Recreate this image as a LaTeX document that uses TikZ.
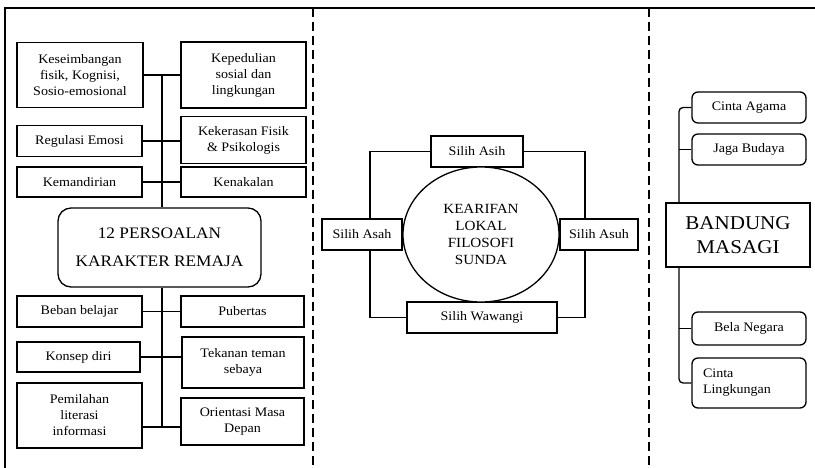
\documentclass[tikz,border=0pt]{standalone}
\usepackage{fontspec}
\setmainfont{Liberation Serif}[FakeStretch=1.08]
\usetikzlibrary{shapes.geometric}
\begin{document}
\begin{tikzpicture}[x=1pt,y=-1pt,
  box/.style={draw, line width=1.3pt, fill=white, inner sep=1pt, align=center,
    font=\fontsize{13}{16}\selectfont},
  rbox/.style={box, rounded corners=6pt},
  conn/.style={line width=1.3pt},
  divider/.style={line width=1.5pt, dash pattern=on 9pt off 5pt}]
\useasboundingbox (0,0) rectangle (815,468);
% frame
\draw[line width=1.6pt] (5,468) -- (5,8) -- (815,8);
\draw[divider] (313,8) -- (313,468);
\draw[divider] (649,8) -- (649,468);

% ---------- left panel ----------
\node[box, minimum width=126, minimum height=65] (kes) at (80,75) {Keseimbangan\\fisik, Kognisi,\\Sosio-emosional};
\node[box, minimum width=125, minimum height=66] (kep) at (243.5,75) {Kepedulian\\sosial dan\\lingkungan};
\node[box, minimum width=125, minimum height=31] (reg) at (79.5,141) {Regulasi Emosi};
\node[box, minimum width=125, minimum height=47] (kek) at (243.5,140) {Kekerasan Fisik\\\& Psikologis};
\node[box, minimum width=125, minimum height=30] (kem) at (79.5,182) {Kemandirian};
\node[box, minimum width=125, minimum height=30] (ken) at (243.5,182) {Kenakalan};
\node[box, rounded corners=13pt, minimum width=203, minimum height=79,
  font=\fontsize{16}{28}\selectfont] (per) at (159.5,247.5) {12 PERSOALAN\\KARAKTER REMAJA};
\node[box, minimum width=125, minimum height=31] (beb) at (79.5,311.5) {Beban belajar};
\node[box, minimum width=123, minimum height=31] (pub) at (242.5,311.5) {Pubertas};
\node[box, minimum width=123, minimum height=30] (kon) at (78.5,357) {Konsep diri};
\node[box, minimum width=122, minimum height=51] (tek) at (243,362.5) {Tekanan teman\\sebaya};
\node[box, minimum width=125, minimum height=65] (pem) at (79.5,415.5) {Pemilahan\\literasi\\informasi};
\node[box, minimum width=123, minimum height=47] (ori) at (242.5,421.5) {Orientasi Masa\\Depan};

\coordinate (t1) at (162,75);
\coordinate (t2) at (162,141);
\coordinate (t3) at (162,182);
\coordinate (t4) at (162,311.5);
\coordinate (t5) at (162,357);
\coordinate (t6) at (162,427);
\draw[conn] (t1) -- (t1 |- per.north);
\draw[conn] (t6 |- per.south) -- (t6);
\draw[conn] (kes.east |- t1) -- (kep.west |- t1);
\draw[conn] (reg.east |- t2) -- (kek.west |- t2);
\draw[conn] (kem.east |- t3) -- (ken.west |- t3);
\draw[conn] (beb.east |- t4) -- (pub.west |- t4);
\draw[conn] (kon.east |- t5) -- (tek.west |- t5);
\draw[conn] (pem.east |- t6) -- (ori.west |- t6);

% ---------- centre panel ----------
\coordinate (c1) at (370,151.5);
\coordinate (c2) at (585,151.5);
\coordinate (c3) at (370,317.5);
\coordinate (c4) at (585,317.5);
\node[box, minimum width=92, minimum height=31] (asih) at (477,151.5) {Silih Asih};
\node[box, minimum width=80, minimum height=31] (asah) at (362,234.5) {Silih Asah};
\node[box, minimum width=78, minimum height=31] (asuh) at (599,234.5) {Silih Asuh};
\node[box, minimum width=150, minimum height=31] (waw) at (482,317.5) {Silih Wawangi};
\draw[conn] (asih.west) -- (c1) -- (c1 |- asah.north);
\draw[conn] (c1 |- asah.south) -- (c3) -- (waw.west);
\draw[conn] (asih.east) -- (c2) -- (c2 |- asuh.north);
\draw[conn] (c2 |- asuh.south) -- (c4) -- (waw.east);
\node[draw, line width=1.3pt, fill=white, ellipse, minimum width=156, minimum height=135,
  inner sep=0pt, align=center, font=\fontsize{14}{17}\selectfont] (kea) at (481,234.5)
  {KEARIFAN\\LOKAL\\FILOSOFI\\SUNDA};

% ---------- right panel ----------
\node[rbox, minimum width=114, minimum height=31] (aga) at (749,107.5) {Cinta Agama};
\node[rbox, minimum width=114, minimum height=31] (bud) at (749,149.5) {Jaga Budaya};
\node[box, minimum width=144, minimum height=64, font=\fontsize{19.5}{24}\selectfont] (ban) at (738,235) {BANDUNG\\MASAGI};
\node[rbox, minimum width=114, minimum height=33] (bel) at (749,328.5) {Bela Negara};
\node[rbox, minimum width=114, minimum height=50, text width=92, align=left] (lin) at (749,383) {Cinta\\Lingkungan};
\coordinate (r1) at (679,107.5);
\coordinate (r2) at (679,149.5);
\coordinate (r3) at (679,328.5);
\coordinate (r4) at (679,383);
\draw[conn, rounded corners=4pt] (aga.west) -- (r1) -- (r1 |- ban.north);
\draw[conn] (bud.west) -- (r2);
\draw[conn, rounded corners=4pt] (r4 |- ban.south) -- (r4) -- (lin.west);
\draw[conn] (bel.west) -- (r3);
\end{tikzpicture}
\end{document}
